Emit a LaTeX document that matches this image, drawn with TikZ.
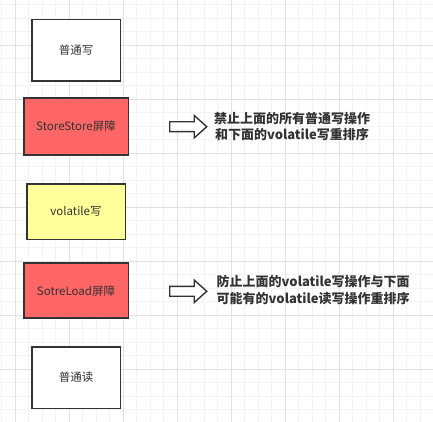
\documentclass[tikz,border=0pt]{standalone}
\usepackage{fontspec}
\setmainfont{Noto Sans CJK SC}
\usetikzlibrary{shapes.arrows}
\definecolor{gridminor}{HTML}{F3F3F3}
\definecolor{gridmajor}{HTML}{E2E2E2}
\definecolor{boxline}{HTML}{333333}
\definecolor{barrierred}{HTML}{FF6666}
\definecolor{volyellow}{HTML}{FFFF99}
\begin{document}
\begin{tikzpicture}[x=1pt, y=-1pt,
  box/.style={draw=boxline, line width=1.5pt, inner sep=0pt, text=boxline, font=\fontsize{11.5}{14}\selectfont},
  fatarrow/.style={draw=boxline, line width=1.4pt, fill=white, shape=single arrow, single arrow head extend=6.3pt, single arrow tip angle=84, inner xsep=0pt, inner ysep=4.2pt, minimum height=37pt},
  note/.style={align=center, text=boxline, font=\bfseries\fontsize{13}{16.7}\selectfont}]
\useasboundingbox[fill=white] (0,0) rectangle (433,422);
% background grid
\foreach \gx in {1.8,15.3,...,433} {\draw[gridminor, line width=0.8pt] (\gx,0) -- (\gx,422);}
\foreach \gy in {4.8,18.3,...,422} {\draw[gridminor, line width=0.8pt] (0,\gy) -- (433,\gy);}
\foreach \gx in {15.3,69.3,...,433} {\draw[gridmajor, line width=0.8pt] (\gx,0) -- (\gx,422);}
\foreach \gy in {45,99,...,422} {\draw[gridmajor, line width=0.8pt] (0,\gy) -- (433,\gy);}
% the five steps
\node[box, fill=white, minimum width=88.5pt, minimum height=61.5pt] (writeA) at (76,50.5) {普通写};
\node[box, fill=barrierred, minimum width=104.5pt, minimum height=57pt] (storestore) at (76,126.3) {StoreStore屏障};
\node[box, fill=volyellow, minimum width=98.5pt, minimum height=55.5pt] (volwrite) at (76,211.5) {volatile写};
\node[box, fill=barrierred, minimum width=104.5pt, minimum height=55pt] (storeload) at (76,290.7) {SotreLoad屏障};
\node[box, fill=white, minimum width=88.5pt, minimum height=61.5pt] (readB) at (76,377.5) {普通读};
% notes
\node[fatarrow] (arrowA) at (185.5,126.7) {};
\node[note] (noteA) at (292,126.5) {禁止上面的所有普通写操作\\和下面的volatile写重排序};
\node[fatarrow] (arrowB) at (185.5,291.3) {};
\node[note] (noteB) at (313.2,290.2) {防止上面的volatile写操作与下面\\可能有的volatile读写操作重排序};
\end{tikzpicture}
\end{document}
